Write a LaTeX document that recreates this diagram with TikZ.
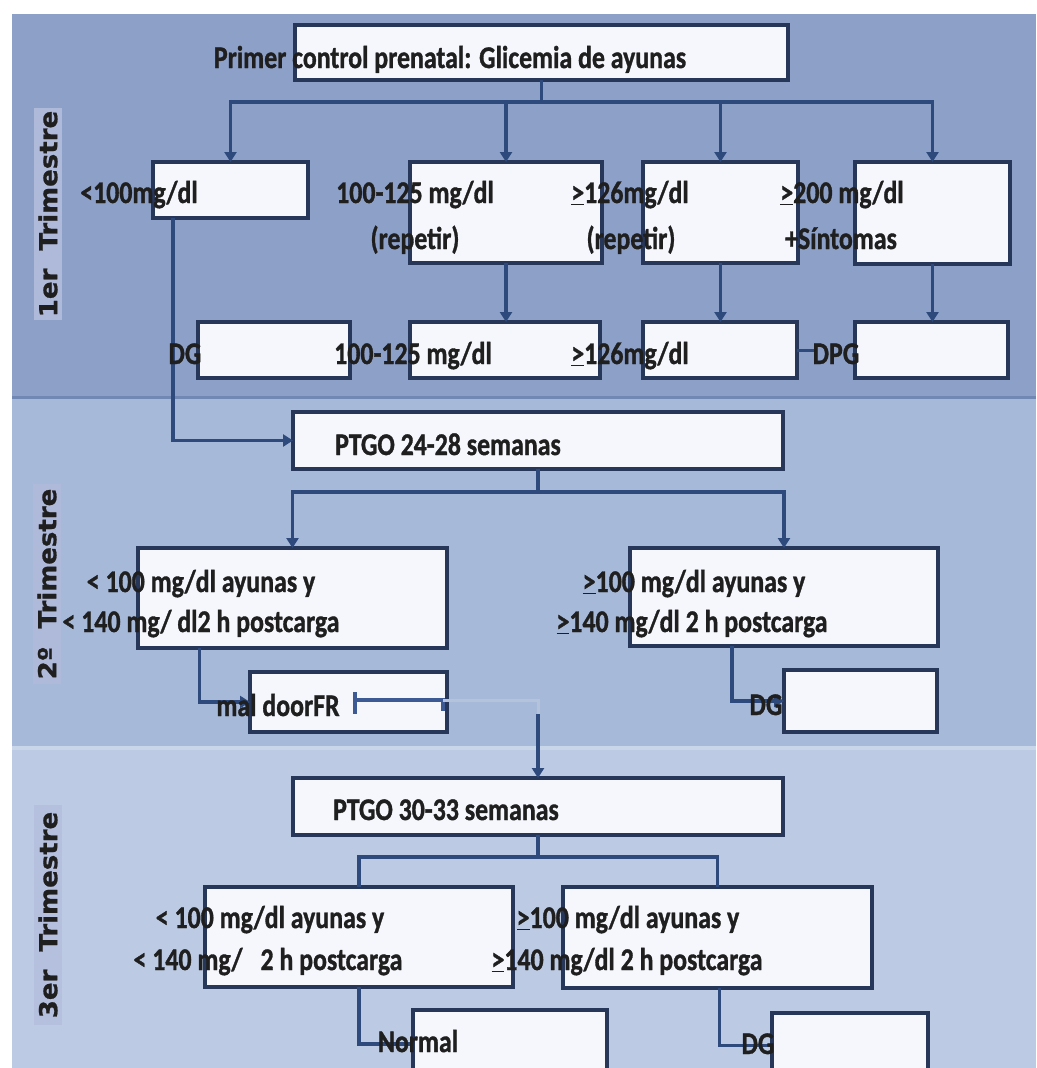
\documentclass[tikz,border=0pt]{standalone}
\usepackage{fontspec}
\usepackage{graphicx}
\setmainfont{Carlito}
\newfontfamily\txtfont[BoldFeatures={FakeBold=1.2}]{Carlito}
\newfontfamily\labelfont[BoldFeatures={FakeBold=0.8}]{DejaVu Sans}
\usetikzlibrary{arrows.meta,calc}
\definecolor{bandA}{HTML}{8CA0C8}
\definecolor{bandB}{HTML}{A7B9D8}
\definecolor{bandC}{HTML}{BCCBE3}
\definecolor{sepA}{HTML}{7088B3}
\definecolor{sepB}{HTML}{C9D5E9}
\definecolor{navy}{HTML}{27375A}
\definecolor{connc}{HTML}{2E4A7D}
\definecolor{barc}{HTML}{3D5A94}
\definecolor{ink}{HTML}{1F1F1F}
\definecolor{boxfill}{HTML}{F5F7FC}
\definecolor{faintc}{HTML}{B4C2DB}
\definecolor{labbg}{HTML}{AFB9DA}
\tikzset{
  box/.style={draw=navy, line width=4pt, fill=boxfill, inner sep=0pt, outer sep=0pt},
  wire/.style={draw=connc, line width=3.8pt},
  arr/.style={wire, -{Triangle[width=12pt,length=10pt]}},
  txt/.style={text=ink, inner sep=0pt, anchor=base, xscale=0.82,
    font=\txtfont\fontsize{31.5}{36}\bfseries\selectfont},
  lab/.style={rotate=90, text=ink, inner sep=0pt,
    font=\labelfont\fontsize{26}{30}\bfseries\selectfont},
}
\newcommand{\myge}{\underline{>}}
\begin{document}
\begin{tikzpicture}[x=1pt,y=-1pt]
\fill[white] (0,0) rectangle (1036,1068);
\useasboundingbox (0,0) rectangle (1036,1068);
% bands
\fill[bandA] (12,14) rectangle (1036,397);
\fill[bandB] (12,397) rectangle (1036,748);
\fill[bandC] (12,748) rectangle (1036,1068);
\draw[sepA, line width=3pt] (12,397) -- (1036,397);
\draw[sepB, line width=4pt] (12,748) -- (1036,748);
% trimester labels
\fill[labbg] (34,108) rectangle (62,320);
\fill[labbg] (33,484) rectangle (61,684);
\fill[labbg!60!bandC] (34,805) rectangle (62,1025);
\node[lab] (lab1) at (48,214) {\scalebox{1}[0.95]{1er\ \ Trimestre}};
\node[lab] (lab2) at (47,584) {\scalebox{1}[0.95]{2º\ \ Trimestre}};
\node[lab] (lab3) at (48,915) {\scalebox{1}[0.95]{3er\ \ Trimestre}};
% boxes
\node[box, minimum width=493pt, minimum height=55pt] (top) at (541.5,52.5) {};
\node[box, minimum width=155pt, minimum height=56pt] (b1) at (230.5,190) {};
\node[box, minimum width=192pt, minimum height=101pt] (b2) at (506,212.5) {};
\node[box, minimum width=155pt, minimum height=101pt] (b3) at (720.5,212.5) {};
\node[box, minimum width=155pt, minimum height=102pt] (b4) at (932.5,213) {};
\node[box, minimum width=152pt, minimum height=56pt] (c1) at (274,350) {};
\node[box, minimum width=190pt, minimum height=56pt] (c2) at (505,350) {};
\node[box, minimum width=154pt, minimum height=56pt] (c3) at (720,350) {};
\node[box, minimum width=153pt, minimum height=56pt] (c4) at (931.5,350) {};
\node[box, minimum width=490pt, minimum height=57pt] (p24) at (538,440.5) {};
\node[box, minimum width=309pt, minimum height=100pt] (l2) at (292.5,598) {};
\node[box, minimum width=308pt, minimum height=98pt] (r2) at (784,597) {};
\node[box, minimum width=197pt, minimum height=60pt] (m2) at (348.5,702) {};
\node[box, minimum width=153pt, minimum height=62pt] (d2) at (860.5,701) {};
\node[box, minimum width=490pt, minimum height=57pt] (p30) at (538,806.5) {};
\node[box, minimum width=308pt, minimum height=100pt] (l3) at (359,937) {};
\node[box, minimum width=309pt, minimum height=101pt] (r3) at (717.5,937.5) {};
\node[box, minimum width=194pt, minimum height=68pt] (n3) at (510,1044) {};
\node[box, minimum width=156pt, minimum height=65pt] (d3) at (850,1045.5) {};
% connectors, first trimester
\coordinate (j1) at ($(top.south)+(0,22)$);
\draw[wire] (top.south) -- (j1);
\draw[wire, line cap=rect] (j1 -| b1.north) -- (j1 -| b4.north);
\draw[arr] (j1 -| b1.north) -- (b1.north);
\draw[arr] (j1 -| b2.north) -- (b2.north);
\draw[arr] (j1 -| b3.north) -- (b3.north);
\draw[arr] (j1 -| b4.north) -- (b4.north);
\draw[arr] (b2.south) -- (b2.south |- c2.north);
\draw[arr] (b3.south) -- (b3.south |- c3.north);
\draw[arr] (b4.south) -- (b4.south |- c4.north);
\coordinate (dpgend) at ($(c3.east)+(20,0)$);
\draw[wire, line width=3pt] (c3.east) -- (dpgend);
\draw[arr] ($(b1.south)+(-57.5,0)$) |- (p24.west);
% second trimester
\coordinate (j2) at ($(p24.south)+(0,23)$);
\draw[wire] (p24.south) -- (j2);
\draw[wire, line cap=rect] (j2 -| l2.north) -- (j2 -| r2.north);
\draw[arr] (j2 -| l2.north) -- (l2.north);
\draw[arr] (j2 -| r2.north) -- (r2.north);
\draw[arr] ($(l2.south)+(-93,0)$) |- (m2.west);
\draw[arr] ($(r2.south)+(-52,0)$) |- (d2.west);
\coordinate (barL) at (355,700);
\coordinate (barR) at (443,700);
\draw[barc, line width=3.5pt] (355,692) -- (355,714);
\draw[barc, line width=3.5pt] (barL) -- (barR) -- (443,711);
\coordinate (fk) at (p30.north |- barR);
\draw[faintc, line width=3pt] (barR) -- (fk) -- ($(fk)+(0,14)$);
\draw[arr] ($(fk)+(0,14)$) -- (p30.north);
% third trimester
\coordinate (j3) at ($(p30.south)+(0,22)$);
\draw[wire] (p30.south) -- (j3);
\draw[wire] (l3.north) -- (l3.north |- j3) -- (r3.north |- j3) -- (r3.north);
\draw[wire] (l3.south) |- (n3.west);
\draw[wire] ($(r3.south)+(2,0)$) |- (d3.west);
% texts
\node[txt] (t0) at (450,68) {Primer control prenatal: Glicemia de ayunas};
\node[txt] (t1) at (139,203) {<100mg/dl};
\node[txt] (t2a) at (415,203) {100-125 mg/dl};
\node[txt] (t2b) at (415,249) {(repetir)};
\node[txt] (t3a) at (630,203) {\myge126mg/dl};
\node[txt] (t3b) at (631,249) {(repetir)};
\node[txt] (t4a) at (842,203) {\myge200 mg/dl};
\node[txt] (t4b) at (841,249) {+Síntomas};
\node[txt] (u1) at (185,364) {DG};
\node[txt] (u2) at (413,364) {100-125 mg/dl};
\node[txt] (u3) at (630,364) {\myge126mg/dl};
\node[txt] (u4) at (836,364) {DPG};
\node[txt] (s0) at (448,455) {PTGO 24-28 semanas};
\node[txt] (s1a) at (201,592) {< 100 mg/dl ayunas y};
\node[txt] (s1b) at (201,632) {< 140 mg/ dl2 h postcarga};
\node[txt] (s2a) at (694,592) {\myge 100 mg/dl ayunas y};
\node[txt] (s2b) at (692,632) {\myge 140 mg/dl 2 h postcarga};
\node[txt] (s3) at (278,716) {mal doorFR};
\node[txt] (s4) at (766,715) {DG};
\node[txt] (v0) at (446,820) {PTGO 30-33 semanas};
\node[txt] (v1a) at (270,928) {< 100 mg/dl ayunas y};
\node[txt] (v1b) at (268,970) {< 140 mg/\hspace{22pt}2 h postcarga};
\node[txt] (v2a) at (628,928) {\myge 100 mg/dl ayunas y};
\node[txt] (v2b) at (627,970) {\myge 140 mg/dl 2 h postcarga};
\node[txt] (v3) at (418,1052) {Normal};
\node[txt] (v4) at (758,1054) {DG};
\end{tikzpicture}
\end{document}
